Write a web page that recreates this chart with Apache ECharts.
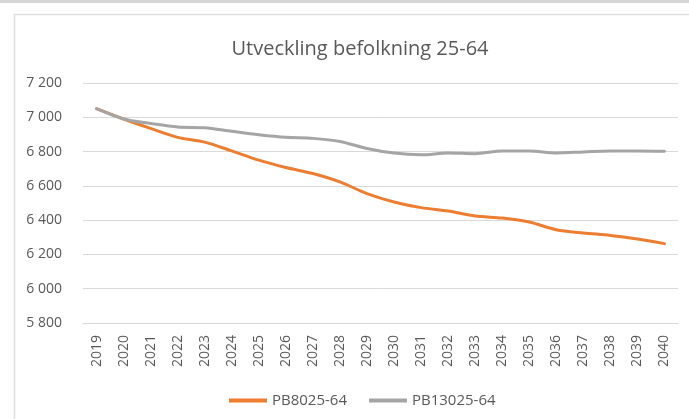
<!DOCTYPE html>
<html>
<head>
<meta charset="utf-8">
<script src="https://cdn.jsdelivr.net/npm/echarts@6/dist/echarts.min.js"></script>
<style>
  html, body { margin: 0; padding: 0; background: #fff; }
  #main { width: 689px; height: 419px; }
</style>
</head>
<body>
<div id="main"></div>
<script>
// years on the x axis
const years = ['2019', '2020', '2021', '2022', '2023', '2024', '2025', '2026', '2027', '2028', '2029',
  '2030', '2031', '2032', '2033', '2034', '2035', '2036', '2037', '2038', '2039', '2040']

// population 25-64
const pb80 = [7050, 6990, 6935, 6883, 6855, 6804, 6750, 6707, 6672, 6623, 6555,
  6506, 6473, 6453, 6424, 6412, 6389, 6344, 6325, 6311, 6290, 6263]
const pb130 = [7050, 6990, 6964, 6943, 6939, 6918, 6898, 6883, 6877, 6859, 6818,
  6791, 6781, 6792, 6788, 6804, 6804, 6792, 6798, 6804, 6804, 6802]

const seriesNames = ['PB8025-64', 'PB13025-64']
const titleText = 'Utveckling befolkning 25-64'

const textColor = '#595959'
const fontFamily = '"Open Sans", "Noto Sans", sans-serif'

let myChart = echarts.init(document.getElementById('main'))

let option = {
  animation: false,
  color: ['#ED7D31', '#A5A5A5'],
  graphic: [
    // window strip at the very top
    {type: 'rect', left: 0, top: 0, shape: {width: 689, height: 3}, style: {fill: '#d6d6d6'}, silent: true},
    // chart frame, right and bottom edges are outside the window
    {type: 'rect', left: 12, top: 12, shape: {width: 700, height: 430},
      style: {fill: 'none', stroke: '#dedede', lineWidth: 1.5}, silent: true}
  ],
  title: {
    text: titleText,
    left: 355,
    textAlign: 'center',
    top: 34,
    textStyle: {fontFamily: fontFamily, fontSize: 20, fontWeight: 'normal', color: textColor}
  },
  legend: {
    data: seriesNames,
    left: 224,
    top: 388,
    itemWidth: 38,
    itemHeight: 4,
    itemGap: 22,
    icon: 'rect',
    textStyle: {fontFamily: fontFamily, fontSize: 15, color: textColor}
  },
  grid: {left: 83, right: 11, top: 83, bottom: 96},
  xAxis: {
    type: 'category',
    data: years,
    boundaryGap: true,
    axisLine: {show: true, lineStyle: {color: '#d9d9d9'}},
    axisTick: {show: false},
    axisLabel: {rotate: 90, margin: 12, interval: 0, fontFamily: fontFamily, fontSize: 14, color: textColor}
  },
  yAxis: {
    type: 'value',
    min: 5800,
    max: 7200,
    interval: 200,
    axisLine: {show: false},
    axisTick: {show: false},
    splitLine: {lineStyle: {color: '#d9d9d9', width: 1}},
    axisLabel: {
      margin: 21,
      fontFamily: fontFamily, fontSize: 14, color: textColor,
      formatter: v => String(v).replace(/\B(?=(\d{3})+(?!\d))/g, ' ')
    }
  },
  series: [
    {name: seriesNames[0], type: 'line', data: pb80, smooth: 0.3, showSymbol: false,
      lineStyle: {width: 3, cap: 'round'}},
    {name: seriesNames[1], type: 'line', data: pb130, smooth: 0.3, showSymbol: false,
      lineStyle: {width: 3, cap: 'round'}}
  ]
}
myChart.setOption(option)
</script>
</body>
</html>
